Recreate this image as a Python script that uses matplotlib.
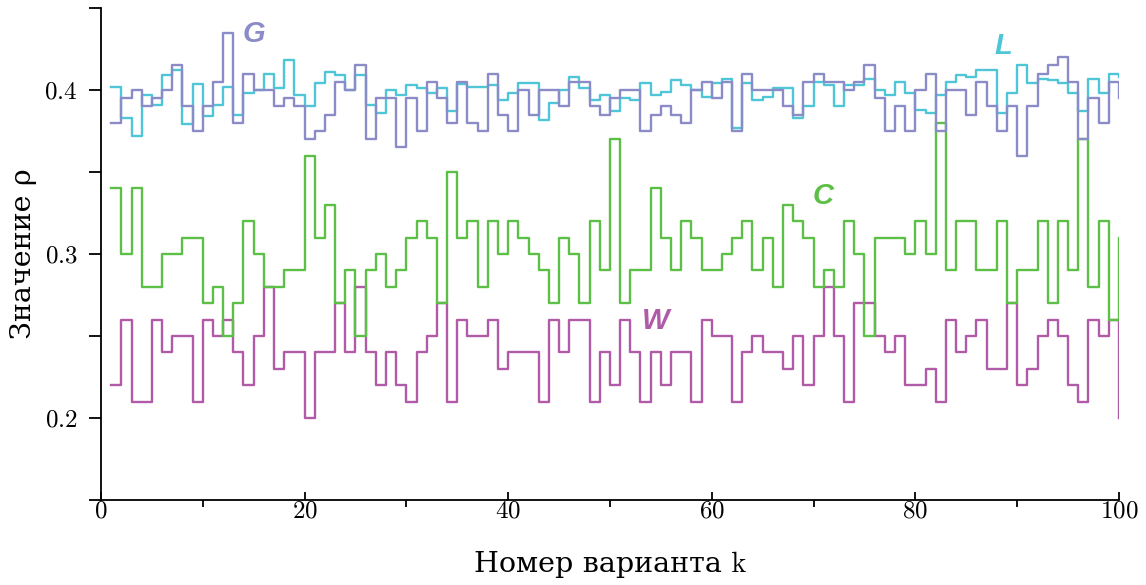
import numpy as np
import matplotlib.pyplot as plt
from matplotlib.ticker import MultipleLocator

k = np.arange(1, 101)

# значения rho для четырёх серий (k = 1..100)
G = [0.380, 0.395, 0.400, 0.390, 0.395, 0.400, 0.415, 0.390, 0.375, 0.390,
     0.405, 0.435, 0.380, 0.410, 0.400, 0.400, 0.390, 0.395, 0.390, 0.370,
     0.375, 0.385, 0.405, 0.400, 0.415, 0.370, 0.395, 0.395, 0.365, 0.395,
     0.375, 0.405, 0.395, 0.380, 0.405, 0.380, 0.375, 0.410, 0.385, 0.375,
     0.400, 0.385, 0.400, 0.400, 0.390, 0.405, 0.405, 0.390, 0.385, 0.395,
     0.400, 0.400, 0.375, 0.385, 0.390, 0.385, 0.380, 0.400, 0.405, 0.395,
     0.405, 0.375, 0.410, 0.400, 0.400, 0.400, 0.390, 0.385, 0.405, 0.410,
     0.405, 0.405, 0.400, 0.405, 0.415, 0.395, 0.375, 0.390, 0.375, 0.400,
     0.410, 0.375, 0.400, 0.400, 0.385, 0.405, 0.390, 0.375, 0.390, 0.360,
     0.390, 0.410, 0.415, 0.420, 0.405, 0.370, 0.395, 0.380, 0.405, 0.395]

L = [0.402, 0.383, 0.372, 0.397, 0.391, 0.409, 0.412, 0.379, 0.4035, 0.384,
     0.391, 0.402, 0.385, 0.398, 0.400, 0.410, 0.401, 0.418, 0.397, 0.390,
     0.4045, 0.411, 0.409, 0.400, 0.409, 0.391, 0.386, 0.400, 0.397, 0.403,
     0.401, 0.398, 0.401, 0.387, 0.4035, 0.402, 0.402, 0.403, 0.394, 0.398,
     0.4045, 0.4045, 0.382, 0.392, 0.400, 0.408, 0.401, 0.394, 0.397, 0.387,
     0.395, 0.394, 0.404, 0.397, 0.399, 0.406, 0.403, 0.400, 0.396, 0.404,
     0.4065, 0.377, 0.404, 0.394, 0.396, 0.401, 0.401, 0.383, 0.390, 0.405,
     0.403, 0.390, 0.403, 0.403, 0.407, 0.400, 0.397, 0.405, 0.398, 0.388,
     0.386, 0.397, 0.405, 0.409, 0.408, 0.412, 0.412, 0.386, 0.398, 0.415,
     0.4045, 0.407, 0.406, 0.4045, 0.398, 0.387, 0.407, 0.398, 0.410, 0.408]

C = [0.34, 0.30, 0.34, 0.28, 0.28, 0.30, 0.30, 0.31, 0.31, 0.27,
     0.28, 0.25, 0.27, 0.32, 0.30, 0.28, 0.28, 0.29, 0.29, 0.36,
     0.31, 0.33, 0.27, 0.29, 0.25, 0.29, 0.30, 0.28, 0.29, 0.31,
     0.32, 0.31, 0.27, 0.35, 0.31, 0.32, 0.28, 0.32, 0.30, 0.32,
     0.31, 0.30, 0.29, 0.27, 0.31, 0.30, 0.27, 0.32, 0.29, 0.37,
     0.27, 0.29, 0.29, 0.34, 0.31, 0.29, 0.32, 0.31, 0.29, 0.29,
     0.30, 0.31, 0.32, 0.29, 0.31, 0.28, 0.33, 0.32, 0.31, 0.28,
     0.29, 0.28, 0.32, 0.30, 0.25, 0.31, 0.31, 0.31, 0.30, 0.32,
     0.30, 0.38, 0.29, 0.32, 0.32, 0.29, 0.29, 0.32, 0.27, 0.29,
     0.29, 0.32, 0.27, 0.32, 0.29, 0.37, 0.28, 0.32, 0.26, 0.31]

W = [0.22, 0.26, 0.21, 0.21, 0.26, 0.24, 0.25, 0.25, 0.21, 0.26,
     0.25, 0.26, 0.24, 0.22, 0.25, 0.28, 0.23, 0.24, 0.24, 0.20,
     0.24, 0.24, 0.27, 0.24, 0.28, 0.24, 0.22, 0.24, 0.22, 0.21,
     0.24, 0.25, 0.27, 0.21, 0.26, 0.25, 0.25, 0.26, 0.23, 0.24,
     0.24, 0.24, 0.21, 0.26, 0.24, 0.26, 0.26, 0.21, 0.24, 0.22,
     0.26, 0.24, 0.21, 0.24, 0.22, 0.24, 0.24, 0.21, 0.26, 0.25,
     0.25, 0.21, 0.24, 0.25, 0.24, 0.24, 0.23, 0.25, 0.22, 0.25,
     0.28, 0.25, 0.21, 0.27, 0.27, 0.25, 0.24, 0.25, 0.22, 0.22,
     0.23, 0.21, 0.26, 0.24, 0.25, 0.26, 0.23, 0.23, 0.27, 0.22,
     0.23, 0.25, 0.26, 0.25, 0.22, 0.21, 0.26, 0.25, 0.26, 0.20]

col_g = "#8b8bc8"
col_l = "#4fc6d8"
col_c = "#5cbf46"
col_w = "#b05aa8"

plt.rcParams["font.family"] = ["cmr10", "DejaVu Serif"]
plt.rcParams["axes.formatter.use_mathtext"] = True

fig = plt.figure(figsize=(11.46, 5.85), dpi=100)
ax = fig.add_axes([0.0881, 0.1453, 0.8883, 0.841])

ax.step(k, W, where="post", color=col_w, lw=1.7)
ax.step(k, C, where="post", color=col_c, lw=1.7)
ax.step(k, L, where="post", color=col_l, lw=1.7)
ax.step(k, G, where="post", color=col_g, lw=1.7)

lab = dict(fontsize=21, fontweight="bold", fontstyle="italic",
           family="Liberation Sans", ha="center", va="center")
ax.text(15.0, 0.434, "G", color=col_g, **lab)
ax.text(88.6, 0.4267, "L", color=col_l, **lab)
ax.text(70.9, 0.3356, "C", color=col_c, **lab)
ax.text(54.5, 0.259, "W", color=col_w, **lab)

ax.set_xlim(0, 100)
ax.set_ylim(0.15, 0.45)
ax.xaxis.set_major_locator(MultipleLocator(20))
ax.xaxis.set_minor_locator(MultipleLocator(10))
ax.yaxis.set_major_locator(MultipleLocator(0.1))
ax.yaxis.set_minor_locator(MultipleLocator(0.05))
ax.tick_params(axis="y", which="major", length=9, width=1.3, pad=8,
               labelsize=18)
ax.tick_params(axis="y", which="minor", length=9, width=1.3)
ax.tick_params(axis="x", which="major", direction="in", length=6,
               width=1.3, pad=0.5, labelsize=18)
ax.tick_params(axis="x", which="minor", length=5, width=1.3)

for s in ["top", "right"]:
    ax.spines[s].set_visible(False)
for s in ["left", "bottom"]:
    ax.spines[s].set_linewidth(1.3)

ax.set_xlabel("Номер варианта k", fontsize=20.5, labelpad=20)
ax.set_ylabel("Значение ρ", fontsize=20.5, labelpad=5)

fig.savefig("out.png", dpi=100)
